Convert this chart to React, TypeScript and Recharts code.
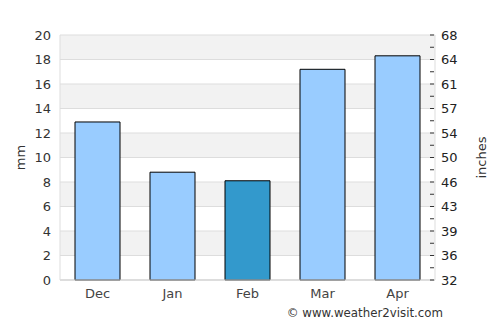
import React from 'react';
import { BarChart, Bar, Cell, XAxis, YAxis, CartesianGrid } from 'recharts';

const months = ['Dec', 'Jan', 'Feb', 'Mar', 'Apr'];
const rainfallMm = [12.9, 8.8, 8.1, 17.2, 18.3];
const highlightMonth = 'Feb';
const mmTicks = [0, 2, 4, 6, 8, 10, 12, 14, 16, 18, 20];
const rightLabels = ['32', '36', '39', '43', '46', '50', '54', '57', '61', '64', '68'];
const rightTicks = Array.from({ length: 21 }, (_, i) => i);

const FONT = '"DejaVu Sans", sans-serif';

const data = months.map((m, i) => ({ month: m, mm: rainfallMm[i] }));

const renderRightTick = ({ x, y, payload }: any) => {
    const v = payload.value;
    const major = v % 2 === 0;
    return (
        <g key={`rt-${v}`}>
            <line x1={x - 5} x2={x - 1} y1={y} y2={y} stroke="#333" strokeWidth={1} />
            {major && (
                <text x={x + 6} y={y} dy="0.35em" textAnchor="start" fontSize={13} fill="#222" fontFamily={FONT}>
                    {rightLabels[v / 2]}
                </text>
            )}
        </g>
    );
};

export default function App() {
    return (
        <div style={{ position: 'absolute', left: 0, top: 0, width: 500, height: 325, background: '#fff' }}>
            <BarChart width={500} height={325} data={data} barCategoryGap="20%"
                margin={{ top: 35, right: 0, left: 0, bottom: 0 }}>
                <CartesianGrid yAxisId="mm" vertical={false} stroke="#dddddd" horizontalFill={['#f2f2f2', '#ffffff']} />
                <XAxis dataKey="month" height={45} tickLine={false} tickSize={0} tickMargin={9}
                    axisLine={{ stroke: '#cccccc' }}
                    tick={{ fontSize: 13, fill: '#444', fontFamily: FONT }}
                    label={{
                        content: ({ viewBox }: any) => (
                            <text x={viewBox.x + viewBox.width + 8} y={viewBox.y + 37} textAnchor="end"
                                fontSize={11.8} fill="#333" fontFamily={FONT}>© www.weather2visit.com</text>
                        ),
                    }} />
                <YAxis yAxisId="mm" orientation="left" width={60} domain={[0, 20]} ticks={mmTicks}
                    interval={0} tickLine={false} tickSize={0} tickMargin={9}
                    axisLine={{ stroke: '#dddddd' }}
                    tick={{ fontSize: 13, fill: '#333', fontFamily: FONT }}
                    label={{
                        content: ({ viewBox }: any) => {
                            const cx = viewBox.x + 20;
                            const cy = viewBox.y + viewBox.height / 2;
                            return (
                                <text x={cx} y={cy} transform={`rotate(-90, ${cx}, ${cy})`} textAnchor="middle"
                                    dominantBaseline="central" fontSize={13} fill="#333" fontFamily={FONT}>mm</text>
                            );
                        },
                    }} />
                <YAxis yAxisId="in" orientation="right" width={65} type="number" domain={[0, 20]} allowDataOverflow
                    ticks={rightTicks} interval={0} tickLine={false} tickSize={0} tickMargin={0}
                    axisLine={{ stroke: '#dddddd' }}
                    tick={renderRightTick}
                    label={{
                        content: ({ viewBox }: any) => {
                            const cx = viewBox.x + 46;
                            const cy = viewBox.y + viewBox.height / 2;
                            return (
                                <text x={cx} y={cy} transform={`rotate(-90, ${cx}, ${cy})`} textAnchor="middle"
                                    dominantBaseline="central" fontSize={13} fill="#333" fontFamily={FONT}>inches</text>
                            );
                        },
                    }} />
                <Bar yAxisId="mm" dataKey="mm" stroke="#000" strokeWidth={1} isAnimationActive={false}>
                    {data.map((d) => (
                        <Cell key={d.month} fill={d.month === highlightMonth ? '#3399cc' : '#99ccff'} />
                    ))}
                </Bar>
            </BarChart>
        </div>
    );
}
